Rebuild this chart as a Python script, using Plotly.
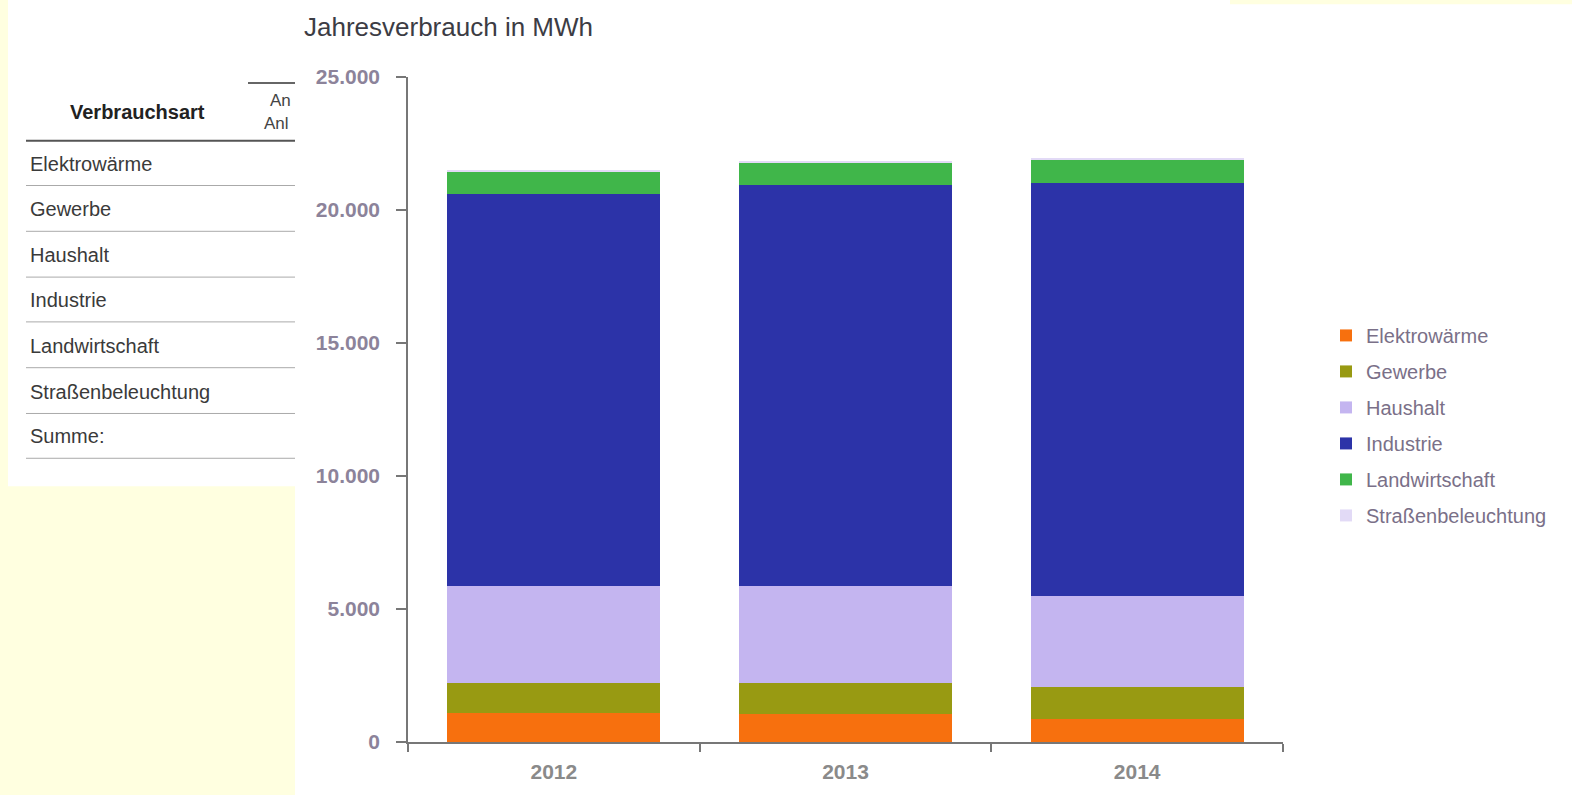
import plotly.graph_objects as go

years = ["2012", "2013", "2014"]
kategorien = ["Elektrowärme", "Gewerbe", "Haushalt", "Industrie",
              "Landwirtschaft", "Straßenbeleuchtung"]
elektrowaerme = [1100, 1050, 850]
gewerbe = [1100, 1150, 1200]
haushalt = [3680, 3660, 3450]
industrie = [14740, 15090, 15500]
landwirtschaft = [820, 850, 900]
strassenbeleuchtung = [30, 30, 30]
tabelle_zeilen = ["Elektrowärme", "Gewerbe", "Haushalt", "Industrie",
                  "Landwirtschaft", "Straßenbeleuchtung", "Summe:"]

farben = ["#F7700E", "#989A12", "#C4B5F0", "#2C33A8", "#40B64A", "#E2DAF6"]
werte = [elektrowaerme, gewerbe, haushalt, industrie, landwirtschaft,
         strassenbeleuchtung]

W, H = 1572, 795
L, R, T, B = 408, 1283, 77, 745


def px(x):
    return (x - L) / (R - L)


def py(y):
    return (B - y) / (B - T)


fig = go.Figure()
for name, vals, col in zip(kategorien, werte, farben):
    fig.add_trace(go.Bar(
        x=years, y=vals, name=name, marker_color=col,
        marker_line_width=0, legendgroup=name,
    ))

shapes = []
# white card for the table, white area for the chart
shapes.append(dict(type="rect", xref="paper", yref="paper", x0=px(8), x1=px(296),
                   y0=py(488), y1=py(-20), fillcolor="white", line_width=0, layer="below"))
shapes.append(dict(type="rect", xref="paper", yref="paper", x0=px(295), x1=px(1620),
                   y0=py(840), y1=py(4), fillcolor="white", line_width=0, layer="below"))
shapes.append(dict(type="rect", xref="paper", yref="paper", x0=px(295), x1=px(1230),
                   y0=py(5), y1=py(-20), fillcolor="white", line_width=0, layer="below"))
# table rules
shapes.append(dict(type="line", xref="paper", yref="paper", x0=px(248), x1=px(295),
                   y0=py(83), y1=py(83), line=dict(color="#333333", width=1.5)))
shapes.append(dict(type="line", xref="paper", yref="paper", x0=px(26), x1=px(295),
                   y0=py(141), y1=py(141), line=dict(color="#555555", width=2)))
for yy in [186, 232, 278, 323, 369, 415, 460]:
    shapes.append(dict(type="line", xref="paper", yref="paper", x0=px(26), x1=px(295),
                       y0=py(yy), y1=py(yy), line=dict(color="#AAAAAA", width=1)))

annotations = []
annotations.append(dict(text="<b>Verbrauchsart</b>", xref="paper", yref="paper",
                        x=px(137), y=py(112), xanchor="center", yanchor="middle",
                        showarrow=False,
                        font=dict(family="Liberation Sans", size=20, color="#222222")))
annotations.append(dict(text="An", xref="paper", yref="paper", x=px(268), y=py(101),
                        xanchor="left", yanchor="middle", showarrow=False,
                        font=dict(family="Liberation Sans", size=17, color="#444444")))
annotations.append(dict(text="Anl", xref="paper", yref="paper", x=px(262), y=py(124),
                        xanchor="left", yanchor="middle", showarrow=False,
                        font=dict(family="Liberation Sans", size=17, color="#444444")))
for txt, yy in zip(tabelle_zeilen, [164, 210, 256, 301, 347, 393, 438]):
    annotations.append(dict(text=txt, xref="paper", yref="paper", x=px(28), y=py(yy),
                            xanchor="left", yanchor="middle", showarrow=False,
                            font=dict(family="Liberation Sans", size=20, color="#3A3A3A")))

fig.update_layout(
    width=W, height=H,
    margin=dict(l=L, r=W - R, t=T, b=H - B, pad=0),
    paper_bgcolor="#FFFFE0",
    plot_bgcolor="white",
    barmode="stack",
    bargap=0.27,
    separators=",.",
    title=dict(text="Jahresverbrauch in MWh", xref="container", yref="container",
               x=304 / W, y=1 - 27 / H, xanchor="left", yanchor="middle",
               font=dict(family="Liberation Sans", size=26, color="#3C3C44")),
    xaxis=dict(showline=True, linecolor="#777777", linewidth=1.5,
               ticks="outside", tickson="boundaries", ticklen=8, tickcolor="#777777",
               tickwidth=1.5, showgrid=False, ticklabelstandoff=10,
               tickfont=dict(family="Liberation Sans", size=21, color="#8A8A8A", weight="bold")),
    yaxis=dict(range=[0, 25000], tickvals=[0, 5000, 10000, 15000, 20000, 25000],
               tickformat=",d", showline=True, linecolor="#777777", linewidth=1.5,
               ticks="outside", ticklen=10, tickcolor="#777777", tickwidth=1.5,
               showgrid=False, zeroline=False, ticklabelstandoff=12,
               tickfont=dict(family="Liberation Sans", size=21, color="#8C839A", weight="bold")),
    legend=dict(x=px(1326), y=py(427), xanchor="left", yanchor="middle",
                traceorder="grouped", tracegroupgap=7, bgcolor="rgba(0,0,0,0)",
                font=dict(family="Liberation Sans", size=20, color="#7A7088")),
    shapes=shapes,
    annotations=annotations,
)

fig.write_html("out.html", config={"displayModeBar": False},
               post_script="document.body.style.margin='0';")
